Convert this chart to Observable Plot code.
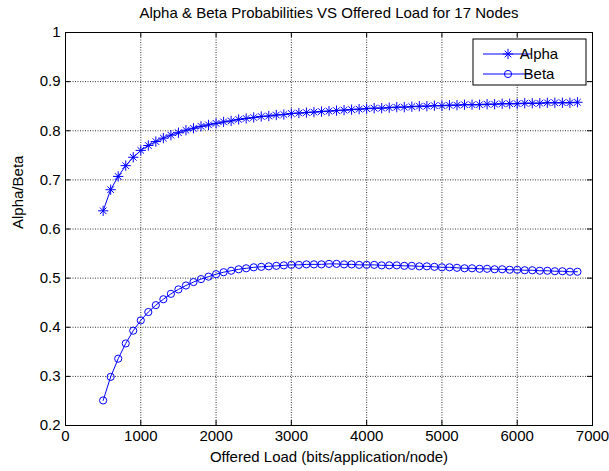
<!DOCTYPE html>
<html><head><meta charset="utf-8">
<script src="https://cdn.jsdelivr.net/npm/d3@7"></script>
<script src="https://cdn.jsdelivr.net/npm/@observablehq/plot@0.6"></script>
<style>body{margin:0;background:#fff}</style>
</head><body><div id="chart"></div>
<script>
const title = "Alpha & Beta Probabilities VS Offered Load for 17 Nodes";
const xLabel = "Offered Load (bits/application/node)";
const yLabel = "Alpha/Beta";
const seriesNames = ["Alpha", "Beta"];
const load = [500,600,700,800,900,1000,1100,1200,1300,1400,1500,1600,1700,1800,1900,2000,
  2100,2200,2300,2400,2500,2600,2700,2800,2900,3000,3100,3200,3300,3400,3500,3600,
  3700,3800,3900,4000,4100,4200,4300,4400,4500,4600,4700,4800,4900,5000,5100,5200,
  5300,5400,5500,5600,5700,5800,5900,6000,6100,6200,6300,6400,6500,6600,6700,6800];
const alpha = [0.637,0.680,0.707,0.729,0.746,0.760,0.770,0.778,0.785,0.791,0.796,0.801,0.805,0.809,0.812,0.815,
  0.818,0.820,0.823,0.825,0.827,0.829,0.830,0.832,0.833,0.835,0.836,0.837,0.838,0.839,0.840,0.841,
  0.842,0.843,0.844,0.845,0.846,0.846,0.847,0.848,0.848,0.849,0.850,0.850,0.851,0.851,0.852,0.852,
  0.853,0.853,0.853,0.854,0.854,0.855,0.855,0.855,0.856,0.856,0.856,0.857,0.857,0.857,0.857,0.858];
const beta = [0.251,0.299,0.336,0.367,0.393,0.414,0.431,0.445,0.457,0.468,0.477,0.485,0.492,0.498,0.503,0.508,
  0.512,0.515,0.518,0.520,0.522,0.523,0.524,0.525,0.526,0.527,0.527,0.528,0.528,0.528,0.529,0.529,
  0.528,0.528,0.527,0.527,0.527,0.526,0.526,0.526,0.525,0.525,0.524,0.524,0.523,0.522,0.522,0.521,
  0.520,0.520,0.519,0.519,0.518,0.518,0.517,0.517,0.516,0.516,0.515,0.515,0.514,0.514,0.513,0.513];
const xTicks = [0,1000,2000,3000,4000,5000,6000,7000];
const yTicks = [0.2,0.3,0.4,0.5,0.6,0.7,0.8,0.9,1];

const W = 609, H = 471, mL = 65, mR = 17, mT = 32, mB = 46;
const fw = W - mL - mR, fh = H - mT - mB, tk = 5;
const blue = "#0000ff";
const rows = load.map((x, i) => ({x, alpha: alpha[i], beta: beta[i]}));
const font = "'Liberation Sans', Arial, Helvetica, sans-serif";

const plot = Plot.plot({
  width: W, height: H,
  marginLeft: mL, marginRight: mR, marginTop: mT, marginBottom: mB,
  style: {fontFamily: font, fontSize: "15px", background: "white", color: "black"},
  x: {domain: [0, 7000]},
  y: {domain: [0.2, 1]},
  marks: [
    Plot.ruleX(xTicks, {x: d => d, stroke: "#000", strokeWidth: 1, strokeDasharray: "1,1.5", strokeOpacity: 0.8}),
    Plot.ruleY(yTicks, {y: d => d, stroke: "#000", strokeWidth: 1, strokeDasharray: "1,1.5", strokeOpacity: 0.8}),
    Plot.ruleX(xTicks, {x: d => d, insetTop: fh - tk, stroke: "#000"}),
    Plot.ruleX(xTicks, {x: d => d, insetBottom: fh - tk, stroke: "#000"}),
    Plot.ruleY(yTicks, {y: d => d, insetRight: fw - tk, stroke: "#000"}),
    Plot.ruleY(yTicks, {y: d => d, insetLeft: fw - tk, stroke: "#000"}),
    Plot.frame({stroke: "#000"}),
    Plot.axisX(xTicks, {tickSize: 0, tickPadding: 5, tickFormat: d => String(d), label: null}),
    Plot.axisY(yTicks, {tickSize: 0, tickPadding: 5, tickFormat: d => d === 1 ? "1" : d.toFixed(1), label: null}),
    Plot.line(rows, {x: "x", y: "alpha", stroke: blue, strokeWidth: 1}),
    Plot.dot(rows, {x: "x", y: "alpha", symbol: "plus", r: 3.4, stroke: blue, strokeWidth: 1}),
    Plot.dot(rows, {x: "x", y: "alpha", symbol: "times", r: 3.1, stroke: blue, strokeWidth: 1}),
    Plot.line(rows, {x: "x", y: "beta", stroke: blue, strokeWidth: 1}),
    Plot.dot(rows, {x: "x", y: "beta", symbol: "circle", r: 3.6, stroke: blue, fill: "none", strokeWidth: 1}),
    Plot.text([title], {frameAnchor: "top", dy: -19, lineAnchor: "middle", fontSize: 15, fill: "black"}),
    Plot.text([xLabel], {frameAnchor: "bottom", dy: 32, lineAnchor: "middle", fontSize: 15, fill: "black"}),
    Plot.text([yLabel], {frameAnchor: "left", dx: -47, rotate: -90, lineAnchor: "middle", fontSize: 15, fill: "black"})
  ]
});

// Legend box (MATLAB style, top-right inside axes)
const svg = d3.select(plot);
const lx = W - mR - 6 - 113, ly = mT + 7;
const g = svg.append("g").attr("font-family", font).attr("font-size", 15);
g.append("rect").attr("x", lx).attr("y", ly).attr("width", 113).attr("height", 46)
  .attr("fill", "white").attr("stroke", "black");
const sym = (type, r) => d3.symbol(type, Math.PI * r * r)();
seriesNames.forEach((name, i) => {
  const cy = ly + 15 + i * 20;
  g.append("line").attr("x1", lx + 10).attr("x2", lx + 58).attr("y1", cy).attr("y2", cy)
    .attr("stroke", blue).attr("stroke-width", 1);
  const mx = lx + 35;
  if (i === 0) {
    g.append("path").attr("d", sym(d3.symbolPlus, 3.4)).attr("transform", `translate(${mx},${cy})`)
      .attr("fill", "none").attr("stroke", blue);
    g.append("path").attr("d", sym(d3.symbolTimes, 3.1)).attr("transform", `translate(${mx},${cy})`)
      .attr("fill", "none").attr("stroke", blue);
  } else {
    g.append("circle").attr("cx", mx).attr("cy", cy).attr("r", 3.6)
      .attr("fill", "none").attr("stroke", blue);
  }
  g.append("text").attr("x", lx + 66).attr("y", cy).attr("dy", "0.35em").text(name);
});

document.getElementById("chart").appendChild(plot);
</script>
</body></html>
